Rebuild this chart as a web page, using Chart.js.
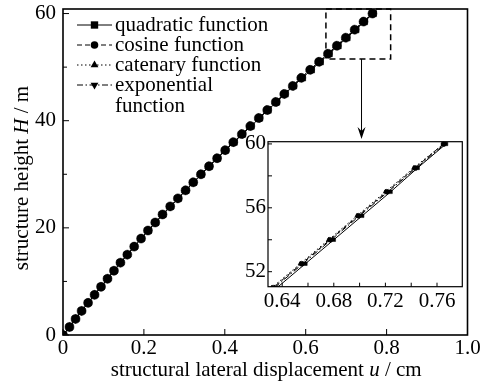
<!DOCTYPE html>
<html>
<head>
<meta charset="utf-8">
<script src="https://cdn.jsdelivr.net/npm/chart.js@4.4.0/dist/chart.umd.min.js"></script>
<style>
  html, body { margin: 0; padding: 0; background: #fff; }
  #wrap { position: relative; width: 485px; height: 383px; }
  #mainChart { position: absolute; left: 0; top: 0; }
  #insetChart { position: absolute; left: 200px; top: 130px; }
</style>
</head>
<body>
<div id="wrap">
  <canvas id="mainChart" width="485" height="383"></canvas>
  <canvas id="insetChart" width="267" height="185"></canvas>
</div>
<script>
'use strict';

// --- Data ---
const heights = [0, 1.5, 3, 4.5, 6, 7.5, 9, 10.5, 12, 13.5, 15, 16.5, 18, 19.5, 21, 22.5, 24, 25.5, 27, 28.5,
    30, 31.5, 33, 34.5, 36, 37.5, 39, 40.5, 42, 43.5, 45, 46.5, 48, 49.5, 51, 52.5, 54, 55.5, 57, 58.5, 60];

const quadratic = [0, 0.016, 0.031, 0.046, 0.062, 0.078, 0.094, 0.110, 0.126, 0.142, 0.159, 0.176, 0.193, 0.211, 0.229, 0.247, 0.266, 0.285, 0.304, 0.323,
    0.342, 0.362, 0.382, 0.402, 0.423, 0.444, 0.465, 0.486, 0.507, 0.528, 0.549, 0.570, 0.592, 0.614, 0.636, 0.658, 0.680, 0.702, 0.724, 0.745, 0.767];
const cosine = [0, 0.016, 0.031, 0.046, 0.062, 0.078, 0.094, 0.110, 0.126, 0.142, 0.159, 0.176, 0.193, 0.210, 0.228, 0.246, 0.265, 0.284, 0.303, 0.322,
    0.341, 0.361, 0.381, 0.401, 0.421, 0.442, 0.463, 0.484, 0.505, 0.526, 0.547, 0.568, 0.589, 0.611, 0.633, 0.655, 0.677, 0.699, 0.721, 0.743, 0.765];
const catenary = [0, 0.016, 0.031, 0.046, 0.062, 0.078, 0.094, 0.110, 0.126, 0.142, 0.159, 0.176, 0.193, 0.210, 0.228, 0.246, 0.265, 0.284, 0.302, 0.321,
    0.340, 0.360, 0.380, 0.400, 0.420, 0.441, 0.462, 0.483, 0.504, 0.525, 0.546, 0.567, 0.588, 0.610, 0.632, 0.654, 0.676, 0.698, 0.720, 0.742, 0.765];
const exponential = [0, 0.016, 0.031, 0.046, 0.062, 0.078, 0.094, 0.110, 0.126, 0.142, 0.159, 0.176, 0.193, 0.210, 0.228, 0.246, 0.265, 0.284, 0.303, 0.322,
    0.341, 0.361, 0.381, 0.401, 0.422, 0.443, 0.464, 0.485, 0.506, 0.527, 0.548, 0.569, 0.590, 0.612, 0.634, 0.656, 0.678, 0.700, 0.722, 0.744, 0.766];

const seriesNames = ['quadratic function', 'cosine function', 'catenary function', 'exponential function'];

const xTicks = [0, 0.2, 0.4, 0.6, 0.8, 1.0];
const xTickLabels = ['0', '0.2', '0.4', '0.6', '0.8', '1.0'];
const yTicks = [0, 20, 40, 60];
const yMinorTicks = [10, 30, 50];

const insetXTicks = [0.64, 0.68, 0.72, 0.76];
const insetXTickLabels = ['0.64', '0.68', '0.72', '0.76'];
const insetXMinorTicks = [0.66, 0.70, 0.74];
const insetYTicks = [52, 56, 60];
const insetYMinorTicks = [54, 58];

// zoom box and arrow in data units of the main chart
const zoomBox = { x0: 0.65, x1: 0.81, y0: 51.5, y1: 60.85 };
const arrow = { x: 0.738, y0: 51.5, y1: 36.6 };

// --- Styles ---
const FONT = 'Liberation Serif';
const FONT_SIZE = 21;
const seriesStyles = [
    { pointStyle: 'rect', rotation: 0, dash: [], legendR: 5.2 },
    { pointStyle: 'circle', rotation: 0, dash: [5, 3], legendR: 3.8 },
    { pointStyle: 'triangle', rotation: 0, dash: [1.5, 2.5], legendR: 4.5 },
    { pointStyle: 'triangle', rotation: 180, dash: [6, 2.5, 1.5, 2.5], legendR: 4.5 }
];
const allSeries = [quadratic, cosine, catenary, exponential];

function buildDatasets(radius) {
    return allSeries.map((vals, i) => ({
        label: seriesNames[i],
        data: heights.map((h, j) => ({ x: vals[j], y: h })),
        borderColor: '#000',
        borderWidth: 1,
        borderDash: seriesStyles[i].dash,
        backgroundColor: '#000',
        pointBackgroundColor: '#000',
        pointBorderColor: '#000',
        pointBorderWidth: 0.5,
        pointStyle: seriesStyles[i].pointStyle,
        pointRotation: seriesStyles[i].rotation,
        pointRadius: radius,
        tension: 0,
        fill: false
    }));
}

function drawMarker(ctx, style, x, y, r) {
    ctx.save();
    ctx.fillStyle = '#000';
    ctx.beginPath();
    if (style.pointStyle === 'rect') {
        const s = r * Math.SQRT1_2;
        ctx.rect(x - s, y - s, 2 * s, 2 * s);
    } else if (style.pointStyle === 'circle') {
        ctx.arc(x, y, r, 0, Math.PI * 2);
    } else {
        const dir = style.rotation === 180 ? -1 : 1;
        ctx.moveTo(x, y - dir * r);
        ctx.lineTo(x - r * 0.87, y + dir * r * 0.5);
        ctx.lineTo(x + r * 0.87, y + dir * r * 0.5);
        ctx.closePath();
    }
    ctx.fill();
    ctx.restore();
}

// text with italic pieces, centred at (cx, cy)
function drawRichText(ctx, parts, cx, cy, size) {
    const fontOf = p => (p.i ? 'italic ' : '') + size + 'px "' + FONT + '"';
    let total = 0;
    parts.forEach(p => { ctx.font = fontOf(p); total += ctx.measureText(p.t).width; });
    let x = cx - total / 2;
    ctx.textBaseline = 'middle';
    ctx.textAlign = 'left';
    parts.forEach(p => {
        ctx.font = fontOf(p);
        ctx.fillText(p.t, x, cy);
        x += ctx.measureText(p.t).width;
    });
}

// frame with inward ticks, shared by both charts
function framePlugin(id, cfg) {
    return {
        id,
        beforeDatasetsDraw(chart) {
            if (!cfg.fill) return;
            const a = chart.chartArea;
            chart.ctx.save();
            chart.ctx.fillStyle = '#fff';
            chart.ctx.fillRect(a.left, a.top, a.right - a.left, a.bottom - a.top);
            chart.ctx.restore();
        },
        afterDatasetsDraw(chart) {
            const { ctx, chartArea: a, scales: { x, y } } = chart;
            ctx.save();
            ctx.strokeStyle = '#000';
            ctx.lineWidth = 1;
            ctx.beginPath();
            cfg.xMajor.forEach(v => { const p = x.getPixelForValue(v); ctx.moveTo(p, a.bottom); ctx.lineTo(p, a.bottom - cfg.major); });
            cfg.xMinor.forEach(v => { const p = x.getPixelForValue(v); ctx.moveTo(p, a.bottom); ctx.lineTo(p, a.bottom - cfg.minor); });
            cfg.yMajor.forEach(v => { const p = y.getPixelForValue(v); ctx.moveTo(a.left, p); ctx.lineTo(a.left + cfg.major, p); });
            cfg.yMinor.forEach(v => { const p = y.getPixelForValue(v); ctx.moveTo(a.left, p); ctx.lineTo(a.left + cfg.minor, p); });
            ctx.stroke();
            ctx.lineWidth = cfg.frameWidth;
            ctx.strokeRect(a.left, a.top, a.right - a.left, a.bottom - a.top);
            ctx.restore();
        }
    };
}

const mainDecor = {
    id: 'mainDecor',
    afterDraw(chart) {
        const { ctx, chartArea: a, scales: { x, y } } = chart;
        ctx.save();
        ctx.fillStyle = '#000';
        ctx.strokeStyle = '#000';

        // legend
        const rows = [25, 45, 65, 85];
        seriesStyles.forEach((st, i) => {
            ctx.save();
            ctx.lineWidth = 1;
            ctx.setLineDash(st.dash);
            ctx.beginPath();
            ctx.moveTo(77, rows[i]);
            ctx.lineTo(112, rows[i]);
            ctx.stroke();
            ctx.restore();
            drawMarker(ctx, st, 94.5, rows[i], st.legendR);
        });
        ctx.font = FONT_SIZE + 'px "' + FONT + '"';
        ctx.textAlign = 'left';
        ctx.textBaseline = 'middle';
        ctx.fillText('quadratic function', 115, rows[0]);
        ctx.fillText('cosine function', 115, rows[1]);
        ctx.fillText('catenary function', 115, rows[2]);
        ctx.fillText('exponential', 115, rows[3]);
        ctx.fillText('function', 115, rows[3] + 21);

        // zoom box
        ctx.save();
        ctx.lineWidth = 1.5;
        ctx.setLineDash([6, 4]);
        const bx0 = x.getPixelForValue(zoomBox.x0), bx1 = x.getPixelForValue(zoomBox.x1);
        const by0 = y.getPixelForValue(zoomBox.y0), by1 = y.getPixelForValue(zoomBox.y1);
        ctx.strokeRect(bx0, by1, bx1 - bx0, by0 - by1);
        ctx.restore();

        // arrow
        const ax = x.getPixelForValue(arrow.x);
        const ay0 = y.getPixelForValue(arrow.y0), ay1 = y.getPixelForValue(arrow.y1);
        ctx.lineWidth = 1;
        ctx.beginPath();
        ctx.moveTo(ax, ay0);
        ctx.lineTo(ax, ay1 - 4);
        ctx.stroke();
        ctx.beginPath();
        ctx.moveTo(ax, ay1);
        ctx.lineTo(ax - 4, ay1 - 12);
        ctx.lineTo(ax, ay1 - 8);
        ctx.lineTo(ax + 4, ay1 - 12);
        ctx.closePath();
        ctx.fill();

        // axis titles
        drawRichText(ctx, [{ t: 'structural lateral displacement ' }, { t: 'u', i: true }, { t: ' / cm' }],
            (a.left + a.right) / 2 + 1, 370, FONT_SIZE);
        ctx.save();
        ctx.translate(22, 178);
        ctx.rotate(-Math.PI / 2);
        drawRichText(ctx, [{ t: 'structure height ' }, { t: 'H', i: true }, { t: ' / m' }], 0, 0, FONT_SIZE);
        ctx.restore();

        ctx.restore();
    }
};

const tickFont = { family: FONT, size: FONT_SIZE };

new Chart(document.getElementById('mainChart').getContext('2d'), {
    type: 'line',
    data: { datasets: buildDatasets(4.5) },
    options: {
        responsive: false,
        animation: false,
        devicePixelRatio: 1,
        layout: { padding: { top: 9, right: 17.5, left: 0, bottom: 0 } },
        plugins: { legend: { display: false }, tooltip: { enabled: false } },
        scales: {
            x: {
                type: 'linear', min: 0, max: 1,
                grid: { display: false, drawTicks: false },
                border: { display: false },
                afterBuildTicks: s => { s.ticks = xTicks.map(v => ({ value: v })); },
                afterFit: s => { s.height = 48; s.paddingLeft = 0; s.paddingRight = 0; },
                ticks: { color: '#000', font: tickFont, padding: 1, maxRotation: 0, autoSkip: false,
                    callback: (v, i) => xTickLabels[i] }
            },
            y: {
                type: 'linear', min: 0, max: 60.85,
                grid: { display: false, drawTicks: false },
                border: { display: false },
                afterBuildTicks: s => { s.ticks = yTicks.map(v => ({ value: v })); },
                afterFit: s => { s.width = 63; s.paddingTop = 0; s.paddingBottom = 0; },
                ticks: { color: '#000', font: tickFont, padding: 7, autoSkip: false }
            }
        }
    },
    plugins: [
        framePlugin('mainFrame', { xMajor: xTicks, xMinor: [], yMajor: yTicks, yMinor: yMinorTicks, major: 6, minor: 4, frameWidth: 1.6 }),
        mainDecor
    ]
});

new Chart(document.getElementById('insetChart').getContext('2d'), {
    type: 'line',
    data: { datasets: buildDatasets(2.5) },
    options: {
        responsive: false,
        animation: false,
        devicePixelRatio: 1,
        layout: { padding: { top: 11.7, right: 4.7, left: 0, bottom: 0 } },
        plugins: { legend: { display: false }, tooltip: { enabled: false } },
        scales: {
            x: {
                type: 'linear', min: 0.629, max: 0.7796,
                grid: { display: false, drawTicks: false },
                border: { display: false },
                afterBuildTicks: s => { s.ticks = insetXTicks.map(v => ({ value: v })); },
                afterFit: s => { s.height = 28.3; s.paddingLeft = 0; s.paddingRight = 0; },
                ticks: { color: '#000', font: tickFont, padding: 2, maxRotation: 0, autoSkip: false,
                    callback: (v, i) => insetXTickLabels[i] }
            },
            y: {
                type: 'linear', min: 51.06, max: 60.14,
                grid: { display: false, drawTicks: false },
                border: { display: false },
                afterBuildTicks: s => { s.ticks = insetYTicks.map(v => ({ value: v })); },
                afterFit: s => { s.width = 68; s.paddingTop = 0; s.paddingBottom = 0; },
                ticks: { color: '#000', font: tickFont, padding: 2, autoSkip: false }
            }
        }
    },
    plugins: [
        framePlugin('insetFrame', { xMajor: insetXTicks, xMinor: insetXMinorTicks, yMajor: insetYTicks, yMinor: insetYMinorTicks, major: 4, minor: 4, frameWidth: 1.2, fill: true })
    ]
});
</script>
</body>
</html>
